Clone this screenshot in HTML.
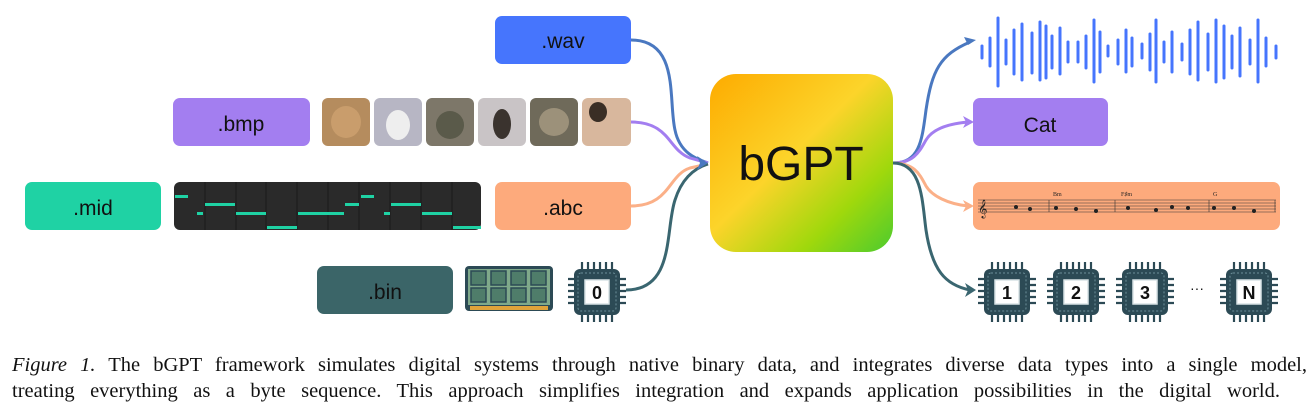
<!DOCTYPE html>
<html><head><meta charset="utf-8"><style>
body{margin:0;background:#fff;width:1312px;height:418px;overflow:hidden;position:relative;font-family:"Liberation Sans",sans-serif}
svg{position:absolute;left:0;top:0}
.cap{position:absolute;left:12px;font-family:"Liberation Serif",serif;font-size:20.5px;color:#111;white-space:nowrap;text-align:justify;text-align-last:justify}
</style></head><body>
<svg width="1312" height="340" viewBox="0 0 1312 340">
<defs>
<linearGradient id="g" x1="0" y1="0" x2="1" y2="1">
<stop offset="0" stop-color="#fdab00"/><stop offset="0.45" stop-color="#fcd42a"/><stop offset="0.75" stop-color="#9fd80c"/><stop offset="1" stop-color="#4ccb2e"/></linearGradient>
<g id="chip">
<g stroke="#2c4a55" stroke-width="2.2">
<path d="M14 0v10M20 0v10M26 0v10M32 0v10M38 0v10M44 0v10M14 50v10M20 50v10M26 50v10M32 50v10M38 50v10M44 50v10M0 17h10M0 23h10M0 29h10M0 35h10M0 41h10M48 17h10M48 23h10M48 29h10M48 35h10M48 41h10"/></g>
<rect x="6" y="7" width="46" height="46" rx="6" fill="#2c4a55"/>
<rect x="10" y="11" width="38" height="38" rx="3" fill="none" stroke="#6d8f99" stroke-width="1" stroke-dasharray="2 2"/>
<rect x="17" y="18" width="24" height="24" fill="#fff" stroke="#d9e3e6" stroke-width="1.5"/>
</g>
</defs>
<g fill="none" stroke-width="3">
<path d="M631 40 C680 40,668 100,675 130 C680 155,700 160,708 163" stroke="#4a78c0"/>
<path d="M631 122 C670 122,668 150,690 158 L708 163" stroke="#a37ef0"/>
<path d="M631 206 C670 206,668 175,690 168 L708 164" stroke="#fbb088"/>
<path d="M626 290 C675 290,665 230,675 200 C682 178,695 168,708 164" stroke="#3a6670"/>
<path d="M893 163 C920 163,922 140,926 110 C932 70,940 55,970 42" stroke="#4a78c0"/>
<path d="M893 163 C915 163,920 150,926 140 C932 130,945 124,968 122" stroke="#a37ef0"/>
<path d="M893 163 C915 163,920 175,926 186 C932 196,948 204,968 206" stroke="#fbb088"/>
<path d="M893 163 C922 163,922 200,926 230 C932 270,945 285,970 290" stroke="#3a6670"/>
</g>
<g>
<path d="M708 163 l-11 -7 3 7 -3 7z" fill="#4a78c0"/>
<path d="M976 40 l-12 -3 4 8z" fill="#4a78c0"/>
<path d="M974 122 l-11 -6 3 6 -3 6z" fill="#a37ef0"/>
<path d="M974 206 l-11 -6 3 6 -3 6z" fill="#fbb088"/>
<path d="M976 290 l-11 -7 3 7 -3 7z" fill="#3a6670"/>
</g>
<rect x="495" y="16" width="136" height="48" rx="7" fill="#4675fd"/>
<text x="563" y="48" font-size="21" text-anchor="middle" fill="#111">.wav</text>
<rect x="173" y="98" width="137" height="48" rx="7" fill="#a37ef0"/>
<text x="241" y="131" font-size="21" text-anchor="middle" fill="#111">.bmp</text>
<g>
<rect x="322" y="98" width="48" height="48" rx="6" fill="#b58c5e"/>
<rect x="374" y="98" width="48" height="48" rx="6" fill="#b7b6c4"/>
<rect x="426" y="98" width="48" height="48" rx="6" fill="#7d7769"/>
<rect x="478" y="98" width="48" height="48" rx="6" fill="#c9c4c6"/>
<rect x="530" y="98" width="48" height="48" rx="6" fill="#6f6a5a"/>
<rect x="582" y="98" width="49" height="48" rx="6" fill="#d8b79d"/>
<ellipse cx="346" cy="122" rx="15" ry="16" fill="#c99d6c"/>
<ellipse cx="398" cy="125" rx="12" ry="15" fill="#eee"/>
<ellipse cx="450" cy="125" rx="14" ry="14" fill="#5a5a4a"/>
<ellipse cx="502" cy="124" rx="9" ry="15" fill="#3a332e"/>
<ellipse cx="554" cy="122" rx="15" ry="14" fill="#9c917a"/>
<ellipse cx="598" cy="112" rx="9" ry="10" fill="#3a2e25"/>
</g>
<rect x="25" y="182" width="136" height="48" rx="7" fill="#1fd2a4"/>
<text x="93" y="215" font-size="21" text-anchor="middle" fill="#111">.mid</text>
<rect x="174" y="182" width="307" height="48" rx="6" fill="#2a2a2a"/>
<g stroke="#1a1a1a" stroke-width="1"><path d="M205 182v48M236 182v48M266 182v48M297 182v48M328 182v48M359 182v48M390 182v48M421 182v48M452 182v48"/></g>
<g fill="#1fd2a4">
<rect x="175" y="195" width="13" height="3"/><rect x="197" y="212" width="6" height="3"/>
<rect x="205" y="203" width="30" height="3"/><rect x="236" y="212" width="30" height="3"/>
<rect x="267" y="226" width="30" height="3"/><rect x="298" y="212" width="46" height="3"/>
<rect x="345" y="203" width="14" height="3"/><rect x="361" y="195" width="13" height="3"/>
<rect x="384" y="212" width="6" height="3"/><rect x="391" y="203" width="30" height="3"/>
<rect x="422" y="212" width="30" height="3"/><rect x="453" y="226" width="28" height="3"/>
</g>
<rect x="495" y="182" width="136" height="48" rx="7" fill="#fdaa7c"/>
<text x="563" y="215" font-size="21" text-anchor="middle" fill="#111">.abc</text>
<rect x="317" y="266" width="136" height="48" rx="7" fill="#3b6568"/>
<text x="385" y="299" font-size="21" text-anchor="middle" fill="#111">.bin</text>
<rect x="465" y="266" width="88" height="45" rx="4" fill="#2c4a55"/>
<rect x="468" y="269" width="82" height="36" fill="#7fa98a"/>
<g fill="#4f7d6a" stroke="#2c4a55" stroke-width="1.5">
<rect x="471" y="271" width="15" height="14"/><rect x="491" y="271" width="15" height="14"/><rect x="511" y="271" width="15" height="14"/><rect x="531" y="271" width="15" height="14"/>
<rect x="471" y="288" width="15" height="14"/><rect x="491" y="288" width="15" height="14"/><rect x="511" y="288" width="15" height="14"/><rect x="531" y="288" width="15" height="14"/></g>
<rect x="470" y="306" width="78" height="4" fill="#e0a33a"/>
<use href="#chip" x="568" y="262"/>
<text x="597" y="299" font-size="18" font-weight="bold" text-anchor="middle" fill="#111">0</text>
<rect x="710" y="74" width="183" height="178" rx="26" fill="url(#g)"/>
<text x="801" y="180" font-size="48" text-anchor="middle" fill="#111">bGPT</text>
<g stroke="#4675fd" stroke-width="3" stroke-linecap="round">
<path d="M982 46v12M990 38v28M998 18v68M1006 40v24M1014 30v44M1022 24v56M1032 33v40M1040 22v58M1046 26v52M1052 36v32M1060 28v46M1068 42v20M1078 42v20M1086 36v32M1094 20v62M1100 32v40M1108 46v10M1118 40v24M1126 30v42M1132 38v28M1142 44v14M1150 34v36M1156 20v62M1164 42v20M1172 32v40M1182 44v16M1190 30v44M1198 22v58M1208 34v36M1216 20v62M1224 26v52M1232 36v32M1240 28v48M1250 40v24M1258 20v62M1266 38v28M1276 46v12"/></g>
<rect x="973" y="98" width="135" height="48" rx="7" fill="#a37ef0"/>
<text x="1040" y="132" font-size="21" text-anchor="middle" fill="#111">Cat</text>
<rect x="973" y="182" width="307" height="48" rx="7" fill="#fdaa7c"/>
<g stroke="#333" stroke-width="0.6"><path d="M978 200h298M978 203h298M978 206h298M978 209h298M978 212h298M1049 200v12M1115 200v12M1209 200v12M1275 200v12"/></g>
<g fill="#222" font-family="Liberation Serif" font-size="6"><text x="1053" y="196">Bm</text><text x="1121" y="196">F♯m</text><text x="1213" y="196">G</text></g>
<g fill="#222"><text x="978" y="214" font-size="16" font-family="DejaVu Sans">𝄞</text>
<circle cx="1016" cy="207" r="2"/><circle cx="1030" cy="209" r="2"/><circle cx="1056" cy="208" r="2"/><circle cx="1076" cy="209" r="2"/><circle cx="1096" cy="211" r="2"/><circle cx="1128" cy="208" r="2"/><circle cx="1156" cy="210" r="2"/><circle cx="1172" cy="207" r="2"/><circle cx="1188" cy="208" r="2"/><circle cx="1214" cy="208" r="2"/><circle cx="1234" cy="208" r="2"/><circle cx="1254" cy="211" r="2"/></g>
<use href="#chip" x="978" y="262"/><text x="1007" y="299" font-size="18" font-weight="bold" text-anchor="middle" fill="#111">1</text>
<use href="#chip" x="1047" y="262"/><text x="1076" y="299" font-size="18" font-weight="bold" text-anchor="middle" fill="#111">2</text>
<use href="#chip" x="1116" y="262"/><text x="1145" y="299" font-size="18" font-weight="bold" text-anchor="middle" fill="#111">3</text>
<text x="1197" y="293" font-size="14" text-anchor="middle" fill="#111">···</text>
<use href="#chip" x="1220" y="262"/><text x="1249" y="299" font-size="18" font-weight="bold" text-anchor="middle" fill="#111">N</text>
</svg>
<div class="cap" style="top:354px;width:1295px"><i>Figure 1.</i> The bGPT framework simulates digital systems through native binary data, and integrates diverse data types into a single model,</div>
<div class="cap" style="top:380px;width:1268px">treating everything as a byte sequence. This approach simplifies integration and expands application possibilities in the digital world.</div>
</body></html>
